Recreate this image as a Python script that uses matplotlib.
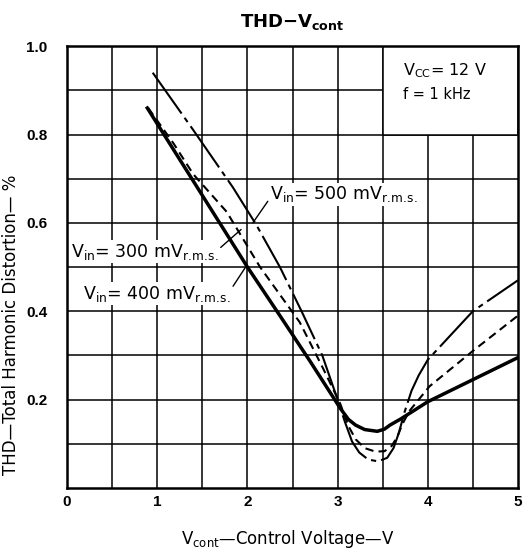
import numpy as np
import matplotlib.pyplot as plt
from matplotlib.patches import Rectangle

plt.rcParams['font.family'] = ['DejaVu Sans']
plt.rcParams['mathtext.fontset'] = 'dejavusans'

# Vin = 500 mV (long/short dash)
v500 = [0.95, 1.4, 1.84, 2.1, 2.36, 2.6, 2.83, 3.0, 3.08, 3.16, 3.24, 3.34, 3.45, 3.55, 3.62, 3.68, 3.74, 3.82, 3.9, 4.0, 4.5, 5.0]
thd500 = [0.94, 0.81, 0.68, 0.595, 0.50, 0.40, 0.30, 0.20, 0.15, 0.105, 0.08, 0.064, 0.06, 0.068, 0.09, 0.125, 0.17, 0.22, 0.255, 0.29, 0.40, 0.47]
# Vin = 300 mV (dashed)
v300 = [0.9, 1.18, 1.4, 1.77, 2.14, 2.58, 2.84, 3.03, 3.12, 3.2, 3.3, 3.42, 3.52, 3.6, 3.66, 3.72, 3.8, 4.02, 4.5, 5.0]
thd300 = [0.86, 0.78, 0.71, 0.625, 0.50, 0.375, 0.27, 0.19, 0.14, 0.11, 0.09, 0.082, 0.083, 0.095, 0.115, 0.145, 0.175, 0.23, 0.31, 0.39]
# Vin = 400 mV (thick solid)
v400 = [0.89, 2.0, 2.36, 2.7, 3.03, 3.12, 3.2, 3.3, 3.44, 3.52, 3.58, 3.7, 4.0, 4.5, 5.0]
thd400 = [0.86, 0.5, 0.39, 0.285, 0.18, 0.155, 0.142, 0.132, 0.128, 0.133, 0.142, 0.156, 0.195, 0.245, 0.295]

fig = plt.figure(figsize=(5.28, 5.5), dpi=100)
ax = fig.add_axes([0.127, 0.113, 0.854, 0.803])
ax.set_xlim(0, 5)
ax.set_ylim(0, 1.0)

# grid
for gx in np.arange(0.5, 5, 0.5):
    ax.axvline(gx, color='black', lw=1.1, zorder=1)
for gy in np.arange(0.1, 1.0, 0.1):
    ax.axhline(gy, color='black', lw=1.1, zorder=1)

# white condition box in upper right
ax.add_patch(Rectangle((3.5, 0.8), 1.5, 0.2, fc='white', ec='black', lw=1.1, zorder=2))
ax.text(3.72, 0.945, r'V$_{\mathregular{CC}}$= 12 V', fontsize=11.5, va='center', zorder=3)
ax.text(3.72, 0.89, 'f = 1 kHz', fontsize=10.5, va='center', zorder=3)

ax.plot(v500, thd500, color='black', lw=1.5, dashes=(24, 2.5, 2.5, 2.5), zorder=4)
ax.plot(v300, thd300, color='black', lw=1.5, dashes=(4, 2.5), zorder=4)
ax.plot(v400, thd400, color='black', lw=2.5, zorder=4)

rms = r'$_{\mathregular{r.\!m.\!s.}}$'
box = dict(fc='white', ec='none', pad=1.0)
lead = dict(arrowstyle='-', lw=1, color='black', shrinkA=1, shrinkB=0)
ax.annotate(r'V$_{\mathregular{in}}$= 500 mV' + rms, xy=(2.06, 0.60), xytext=(2.25, 0.665),
            fontsize=12.5, va='center', bbox=box, zorder=5,
            arrowprops=dict(lead, relpos=(0, 0.3)))
ax.annotate(r'V$_{\mathregular{in}}$= 300 mV' + rms, xy=(1.93, 0.585), xytext=(0.04, 0.535),
            fontsize=12.5, va='center', bbox=box, zorder=5,
            arrowprops=dict(lead, relpos=(1, 0.6)))
ax.annotate(r'V$_{\mathregular{in}}$= 400 mV' + rms, xy=(1.98, 0.50), xytext=(0.18, 0.44),
            fontsize=12.5, va='center', bbox=box, zorder=5,
            arrowprops=dict(lead, relpos=(1, 0.7)))

ax.set_xticks([0, 1, 2, 3, 4, 5])
ax.set_xticklabels(['0', '1', '2', '3', '4', '5'], fontsize=11, fontweight='bold', family='Liberation Sans')
ax.set_yticks([0.2, 0.4, 0.6, 0.8, 1.0])
ax.set_yticklabels(['0.2', '0.4', '0.6', '0.8', '1.0'], fontsize=11, fontweight='bold', family='Liberation Sans')
ax.tick_params(axis='y', length=0, pad=14)
ax.tick_params(axis='x', length=0, pad=5)
for s in ax.spines.values():
    s.set_linewidth(1.8)

ax.set_xlabel(r'V$_{\mathregular{cont}}$—Control Voltage—V', fontsize=12)
ax.xaxis.set_label_coords(0.49, -0.09)
ax.set_ylabel('THD—Total Harmonic Distortion— %', fontsize=12)
ax.yaxis.set_label_coords(-0.105, 0.37)
ax.set_title(r'THD−V$_{\mathregular{cont}}$', fontsize=13, fontweight='bold', pad=14)

fig.savefig('out.png', dpi=100)
